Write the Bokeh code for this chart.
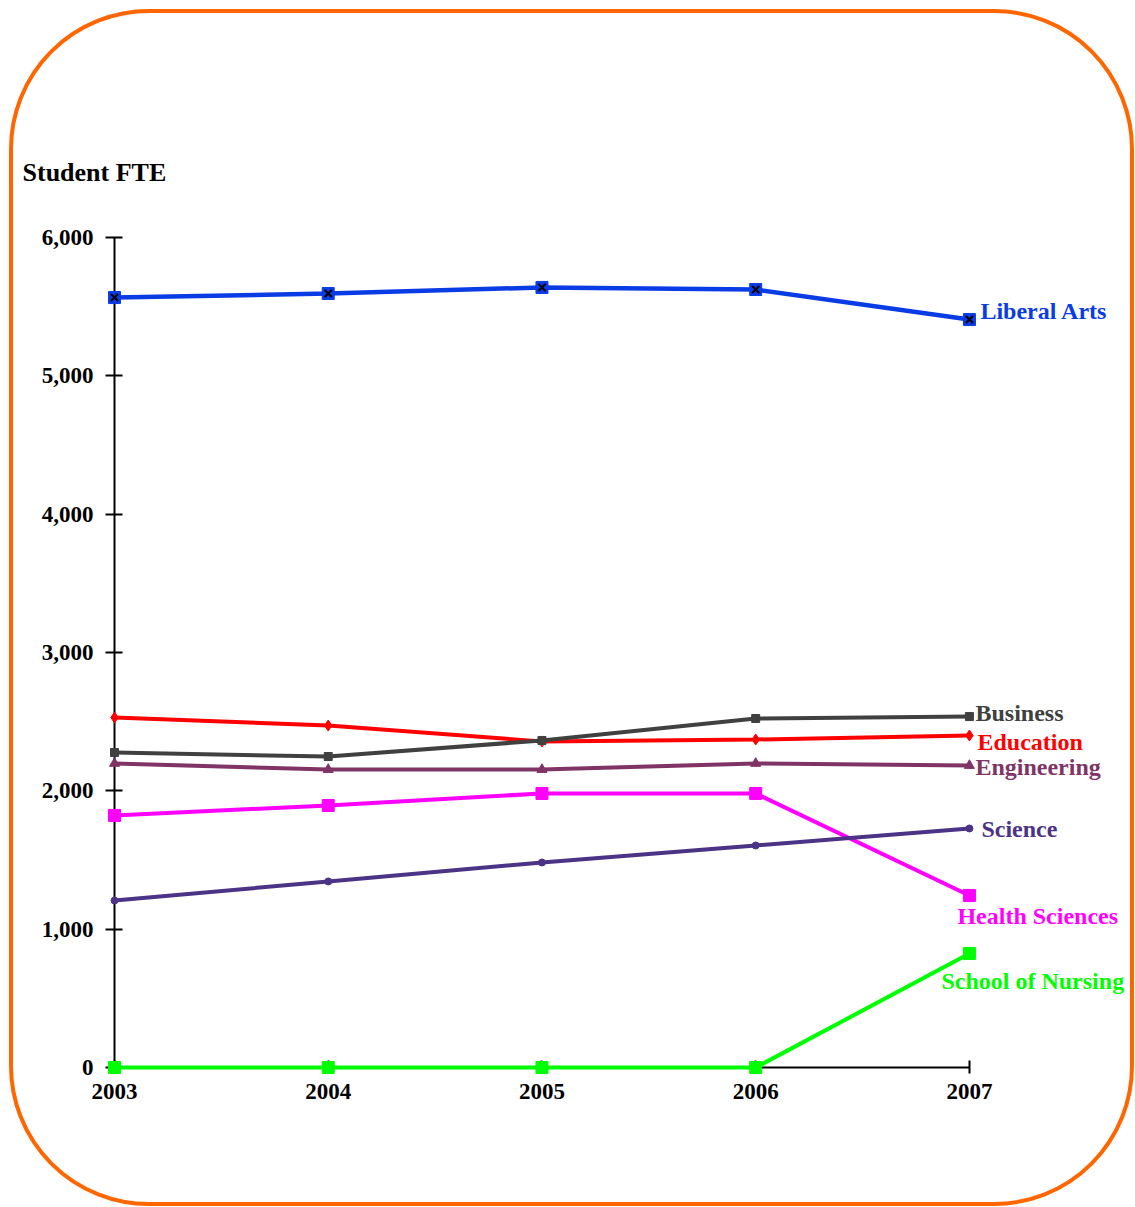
from bokeh.plotting import figure
from bokeh.models import FixedTicker, NumeralTickFormatter
from bokeh.core.properties import value
from bokeh.embed import file_html
from bokeh.resources import INLINE

# ---- data ----
years = [2003, 2004, 2005, 2006, 2007]
liberal_arts = [5566, 5595, 5639, 5624, 5407]
business = [2277, 2248, 2364, 2523, 2537]
education = [2530, 2472, 2357, 2371, 2400]
engineering = [2198, 2154, 2154, 2198, 2183]
health_sciences = [1822, 1894, 1981, 1981, 1243]
science = [1207, 1345, 1482, 1605, 1728]
nursing = [0, 0, 0, 0, 824]
y_ticks = [0, 1000, 2000, 3000, 4000, 5000, 6000]
y_title = "Student FTE"

# ---- styles ----
FONT = value("Liberation Serif")
series = [
    # name, values, color, marker, size, line width, label x_off, label y_off
    ("Health Sciences", health_sciences, "#FF00FF", "square", 12, 4, -12, 20),
    ("Engineering", engineering, "#803465", "triangle", 10, 4, 6, 1),
    ("Education", education, "#FF0000", "diamond", 11, 4, 8, 6),
    ("Business", business, "#404040", "square", 8, 4, 6, -4),
    ("Science", science, "#4B3385", "circle", 7, 4, 12, 1),
    ("Liberal Arts", liberal_arts, "#0A3CE6", "square", 12, 4.5, 11, -9),
    ("School of Nursing", nursing, "#00FF00", "square", 12, 4, -28, 27),
]

W, H = 1125, 1197
px_per_year = 213.75
px_per_unit = 138.33 / 1000
p = figure(width=W, height=H, output_backend="svg", toolbar_location=None,
           x_range=(2003, 2007.791), y_range=(0, 6000),
           min_border_left=101, min_border_top=224, min_border_bottom=143,
           min_border_right=0,
           background_fill_color=None, border_fill_color=None,
           outline_line_color=None)
p.styles = {"border": "4px solid #FF6600", "border-radius": "140px",
            "background": "white", "margin-left": "9px", "margin-top": "9px"}
p.grid.visible = False

# axes
p.xaxis.ticker = FixedTicker(ticks=years)
p.xaxis.bounds = (years[0], years[-1])
p.yaxis.ticker = FixedTicker(ticks=y_ticks)
p.yaxis.bounds = (y_ticks[0], y_ticks[-1])
p.yaxis.formatter = NumeralTickFormatter(format="0,0")
for ax in (p.xaxis, p.yaxis):
    ax.axis_line_color = "black"
    ax.axis_line_width = 2
    ax.major_tick_line_color = "black"
    ax.major_tick_line_width = 2
    ax.minor_tick_line_color = None
    ax.major_label_text_font = "Liberation Serif"
    ax.major_label_text_font_style = "bold"
    ax.major_label_text_font_size = "23px"
    ax.major_label_text_color = "black"
p.yaxis.major_tick_in = 8
p.yaxis.major_tick_out = 9
p.yaxis.major_label_standoff = 12
p.xaxis.major_tick_in = 7
p.xaxis.major_tick_out = 6
p.xaxis.major_label_standoff = 10

# series
for name, vals, color, marker, size, lw, xo, yo in series:
    p.line(years, vals, line_color=color, line_width=lw, level="overlay")
    p.scatter(years, vals, marker=marker, size=size, fill_color=color,
              line_color=color, level="overlay")
    if name == "Liberal Arts":
        p.scatter(years, vals, marker="x", size=10, line_color="black",
                  line_width=2, level="overlay")
    p.text(x=[years[-1]], y=[vals[-1]], text=[name], x_offset=xo, y_offset=yo,
           text_font=FONT, text_font_style="bold", text_font_size="24px",
           text_color=color, text_align="left", text_baseline="middle",
           level="overlay")

# y-axis title, above axis at left
p.text(x=[2003 - 92 / px_per_year], y=[6000 + 65 / px_per_unit], text=[y_title],
       text_font=FONT, text_font_style="bold", text_font_size="26px",
       text_color="black", text_align="left", text_baseline="middle",
       level="overlay")

open("out.html", "w").write(file_html(p, INLINE))
